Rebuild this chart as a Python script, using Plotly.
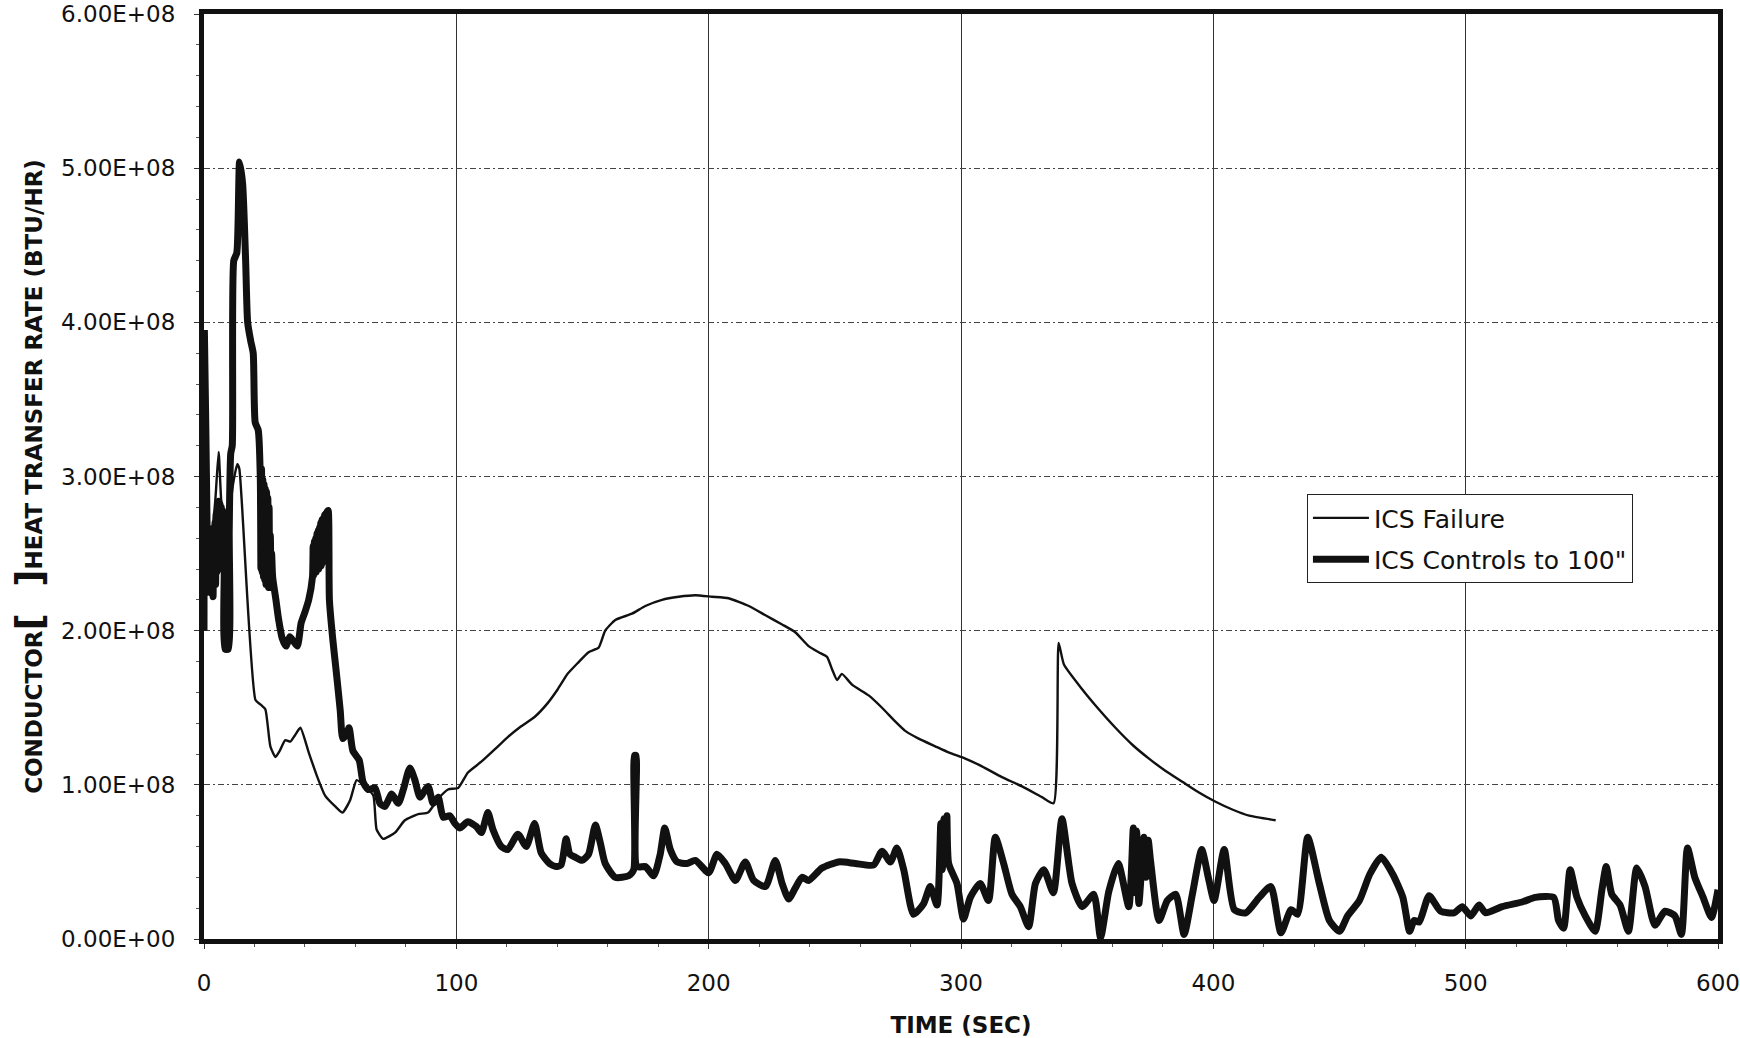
import numpy as np
import plotly.graph_objects as go

# ---- data (heat transfer rate in units of 1E+08 BTU/HR) ----
failure_time = [0.0, 1.5, 3.0, 4.5, 5.8, 6.8, 8.5, 10.0, 11.5, 13.2, 14.0, 20.4, 22.5, 24.3,
                26.3, 28.3, 30.0, 32.2, 34.2, 36.0, 38.2, 41.5, 44.7, 48.0, 52.0, 54.9, 57.9,
                60.5, 63.8, 67.1, 68.4, 71.0, 75.7, 79.6, 84.9, 88.8, 92.8, 96.7, 100.7, 104.6,
                109.9, 115.2, 120.4, 125.7, 131.0, 136.2, 140.2, 144.1, 148.1, 152.4, 156.4,
                159.0, 163.0, 169.6, 174.9, 181.5, 188.1, 194.7, 201.3, 207.9, 215.9, 222.5,
                229.1, 234.3, 239.6, 243.6, 246.9, 248.9, 250.9, 252.8, 256.8, 263.4, 268.7,
                274.0, 277.9, 283.2, 289.8, 295.1, 301.7, 308.3, 316.2, 324.2, 332.1, 336.7,
                338.7, 340.8, 348.0, 354.6, 361.2, 367.9, 374.5, 381.1, 387.7, 394.3, 400.9,
                407.5, 414.2, 424.7]
failure_rate_e8 = [2.45, 2.50, 2.60, 2.85, 3.16, 2.85, 2.62, 2.75, 2.95, 3.08, 3.05, 1.55, 1.52,
                   1.49, 1.25, 1.18, 1.22, 1.29, 1.28, 1.32, 1.37, 1.21, 1.06, 0.93, 0.86, 0.82,
                   0.90, 1.03, 0.99, 0.93, 0.71, 0.65, 0.69, 0.77, 0.81, 0.82, 0.91, 0.97, 0.98,
                   1.08, 1.15, 1.23, 1.31, 1.38, 1.44, 1.53, 1.62, 1.72, 1.79, 1.86, 1.89, 2.00,
                   2.07, 2.11, 2.16, 2.20, 2.22, 2.23, 2.22, 2.21, 2.16, 2.10, 2.04, 1.99, 1.90,
                   1.86, 1.83, 1.75, 1.68, 1.72, 1.65, 1.58, 1.50, 1.41, 1.35, 1.30, 1.25, 1.21,
                   1.17, 1.12, 1.05, 0.99, 0.92, 0.88, 1.92, 1.78, 1.62, 1.49, 1.37, 1.26, 1.17,
                   1.09, 1.02, 0.95, 0.89, 0.84, 0.80, 0.77]

controls_time = [0.0, 0.15, 1.2,
                 1.6, 1.85, 2.1, 2.35, 2.6, 2.85, 3.1, 3.35, 3.6, 3.85, 4.1, 4.35, 4.6, 4.85,
                 5.1, 5.35, 5.6, 5.85, 6.1, 6.35, 6.6, 6.85, 7.1, 7.35, 7.6, 7.85, 8.1,
                 8.4, 9.6, 10.0, 10.6, 11.2, 11.8, 13.0, 14.1, 15.3, 16.5, 17.3, 18.5, 19.5,
                 20.3, 21.5,
                 22.3, 22.55, 22.8, 23.05, 23.3, 23.55, 23.8, 24.05, 24.3, 24.55, 24.8, 25.05,
                 25.3, 25.55, 25.8, 26.05, 26.3, 26.55, 26.8, 27.2,
                 28.5, 29.5, 31.0, 32.5, 34.0, 35.5, 37.0, 38.5, 40.0, 41.5,
                 43.0, 43.25, 43.5, 43.75, 44.0, 44.25, 44.5, 44.75, 45.0, 45.25, 45.5, 45.75,
                 46.0, 46.25, 46.5, 46.75, 47.0, 47.25, 47.5, 47.75, 48.0, 48.25, 48.5, 48.8,
                 49.2,
                 49.7, 51.0, 52.5, 54.0,
                 55.0, 56.5, 57.5, 59.0, 61.5, 63.0, 65.0, 67.8, 69.7, 71.7, 74.4, 77.0, 79.0,
                 81.6, 83.6, 85.6, 88.8, 90.8, 92.8, 94.8, 97.4, 99.4, 101.3, 104.6, 107.9,
                 109.9, 112.5, 114.5, 117.8, 120.4, 124.4, 127.7, 131.0, 133.6, 136.9, 139.5,
                 141.5, 143.5, 145.0, 147.2, 149.8, 152.4, 155.1, 157.1, 159.0, 163.0, 168.3,
                 170.3, 170.6, 171.2, 171.6, 174.9, 178.2, 180.8, 182.6, 184.8, 187.5, 191.4,
                 194.7, 200.0, 203.3, 206.6, 210.6, 214.5, 217.8, 222.5, 226.4, 229.1, 231.7,
                 234.3, 237.0, 239.6, 244.9, 251.5, 258.1, 265.4, 268.7, 272.0, 274.6, 277.3,
                 281.2, 285.2, 287.8, 290.5, 292.0, 292.6, 293.2, 293.8, 294.4, 295.1, 298.4,
                 301.0, 303.7, 307.6, 310.9, 313.6, 316.9, 320.2, 323.5, 326.8, 329.5, 332.8,
                 336.6, 340.0, 344.0, 348.0, 352.6, 355.3, 358.6, 362.3, 366.5, 368.3, 369.0,
                 369.6, 370.5, 372.5, 373.3, 374.2, 375.1, 378.5, 381.8, 385.1, 388.4, 391.7,
                 395.4, 398.0, 400.3, 404.3, 408.3, 412.9, 418.2, 422.8, 426.8, 430.8, 433.4,
                 437.4, 442.0, 446.0, 450.0, 453.2, 457.9, 462.0, 466.5, 471.1, 475.1, 477.8,
                 479.6, 481.6, 485.5, 490.1, 495.4, 498.7, 502.0, 505.3, 507.9, 514.5, 522.4,
                 527.6, 534.9, 536.8, 538.8, 541.4, 544.1, 547.4, 551.3, 554.0, 555.7, 557.9,
                 561.2, 564.5, 567.8, 571.1, 575.0, 579.0, 582.9, 585.5, 587.9, 590.8, 594.1,
                 597.4, 600.0]
controls_rate_e8 = [2.00, 3.95, 2.70,
                    2.25, 2.62, 2.28, 2.58, 2.30, 2.66, 2.24, 2.55, 2.22, 2.64, 2.32, 2.70,
                    2.30, 2.76, 2.38, 2.80, 2.42, 2.84, 2.40, 2.82, 2.46, 2.80, 2.42, 2.78,
                    2.40, 2.76, 2.50,
                    1.88, 1.88, 2.65, 3.15, 3.20, 4.40, 4.45, 5.04, 4.90, 4.40, 4.00, 3.88, 3.80,
                    3.35, 3.30,
                    3.00, 2.40, 3.05, 2.38, 2.98, 2.35, 2.95, 2.33, 2.92, 2.30, 2.90, 2.30,
                    2.86, 2.28, 2.80, 2.28, 2.62, 2.30, 2.50, 2.35,
                    2.20, 2.08, 1.95, 1.90, 1.96, 1.93, 1.90, 2.05, 2.12, 2.20,
                    2.35, 2.55, 2.36, 2.58, 2.38, 2.60, 2.38, 2.63, 2.40, 2.65, 2.40, 2.67,
                    2.42, 2.70, 2.42, 2.72, 2.44, 2.73, 2.45, 2.75, 2.46, 2.76, 2.48, 2.77,
                    2.78,
                    2.20, 1.95, 1.72, 1.48,
                    1.30, 1.33, 1.37, 1.22, 1.16, 1.02, 0.97, 0.98, 0.88,
                    0.86, 0.94, 0.88, 0.97, 1.11, 1.03, 0.92, 0.99, 0.88, 0.92, 0.79, 0.80, 0.75,
                    0.72, 0.76, 0.73, 0.69, 0.82, 0.71, 0.60, 0.58, 0.68, 0.60, 0.75, 0.56, 0.49,
                    0.47, 0.48, 0.65, 0.55, 0.53, 0.51, 0.55, 0.74, 0.62, 0.49, 0.40, 0.41, 0.45,
                    1.19, 1.19, 0.47, 0.47, 0.41, 0.55, 0.72, 0.58, 0.50, 0.49, 0.51, 0.43, 0.55,
                    0.49, 0.38, 0.50, 0.38, 0.34, 0.51, 0.36, 0.26, 0.33, 0.40, 0.38, 0.46, 0.50,
                    0.49, 0.48, 0.57, 0.50, 0.59, 0.45, 0.16, 0.23, 0.34, 0.22, 0.75, 0.45, 0.78,
                    0.50, 0.80, 0.49, 0.36, 0.13, 0.27, 0.36, 0.25, 0.66, 0.49, 0.29, 0.21, 0.08,
                    0.36, 0.45, 0.30, 0.78, 0.36, 0.21, 0.29, 0.01, 0.31, 0.49, 0.21, 0.72, 0.30,
                    0.70, 0.23, 0.66, 0.40, 0.64, 0.51, 0.12, 0.25, 0.29, 0.03, 0.29, 0.58, 0.40,
                    0.25, 0.58, 0.19, 0.17, 0.27, 0.34, 0.04, 0.19, 0.16, 0.66, 0.36, 0.12, 0.05,
                    0.15, 0.25, 0.42, 0.53, 0.42, 0.27, 0.05, 0.12, 0.11, 0.28, 0.18, 0.17, 0.21,
                    0.15, 0.22, 0.17, 0.21, 0.24, 0.27, 0.27, 0.12, 0.07, 0.45, 0.27, 0.15, 0.05,
                    0.32, 0.47, 0.29, 0.22, 0.05, 0.46, 0.34, 0.09, 0.18, 0.15, 0.03, 0.59, 0.40,
                    0.27, 0.14, 0.32]

assert len(failure_time) == len(failure_rate_e8)
assert len(controls_time) == len(controls_rate_e8)

# ---- axis ticks ----
time_ticks = [0, 100, 200, 300, 400, 500, 600]
time_tick_labels = ["0", "100", "200", "300", "400", "500", "600"]
rate_ticks = [0, 1e8, 2e8, 3e8, 4e8, 5e8, 6e8]
rate_tick_labels = ["0.00E+00", "1.00E+08", "2.00E+08", "3.00E+08",
                    "4.00E+08", "5.00E+08", "6.00E+08"]

E8 = 1e8
FONT = "DejaVu Sans"
INK = "#111111"

fig = go.Figure()
fig.add_trace(go.Scatter(
    x=failure_time, y=np.array(failure_rate_e8) * E8,
    mode="lines", name="ICS Failure", legendgroup="failure",
    line=dict(color=INK, width=2.4, shape="spline", smoothing=0.5),
))
fig.add_trace(go.Scatter(
    x=controls_time, y=np.array(controls_rate_e8) * E8,
    mode="lines", name="ICS Controls to 100\"", legendgroup="controls",
    line=dict(color=INK, width=7, shape="spline", smoothing=0.6),
))

fig.update_layout(
    width=1740, height=1038,
    margin=dict(l=204, r=22, t=14, b=99, autoexpand=False),
    paper_bgcolor="white", plot_bgcolor="white",
    font=dict(family=FONT, size=23, color=INK),
    showlegend=True,
    legend=dict(
        x=0.7285, y=0.481, xanchor="left", yanchor="top",
        bgcolor="white", bordercolor="#222222", borderwidth=1,
        font=dict(family=FONT, size=25, color=INK),
        itemwidth=56, tracegroupgap=6,
    ),
)

fig.update_xaxes(
    range=[0, 600], tickmode="array", automargin=False,
    tickvals=time_ticks, ticktext=time_tick_labels,
    showline=True, linewidth=5, linecolor=INK, mirror=True,
    showgrid=True, gridcolor="#333333", gridwidth=1,
    zeroline=False,
    ticks="outside", ticklen=5, tickwidth=1, tickcolor="#333333",
    ticklabelstandoff=14,
    tickfont=dict(family=FONT, size=23, color=INK),
    minor=dict(ticks="outside", ticklen=3, tickwidth=1, tickcolor="#555555",
               dtick=20, showgrid=False),
    title=dict(text="<b>TIME (SEC)</b>", standoff=30,
               font=dict(family=FONT, size=23, color=INK)),
)

fig.update_yaxes(
    range=[0, 6e8], tickmode="array", automargin=False,
    tickvals=rate_ticks, ticktext=rate_tick_labels,
    showline=True, linewidth=5, linecolor=INK, mirror=True,
    showgrid=True, gridcolor="#444444", gridwidth=1, griddash="6px,3px,2px,3px",
    zeroline=False,
    ticks="outside", ticklen=5, tickwidth=1, tickcolor="#333333",
    ticklabelstandoff=14,
    tickfont=dict(family=FONT, size=23, color=INK),
    minor=dict(ticks="outside", ticklen=3, tickwidth=1, tickcolor="#555555",
               dtick=2e7, showgrid=False),
    title=dict(
        text="<b>CONDUCTOR<span style='font-size:38px'>[\u00a0\u00a0]</span>"
             "HEAT TRANSFER RATE (BTU/HR)</b>",
        standoff=14,
        font=dict(family=FONT, size=23, color=INK),
    ),
)

fig.write_html("out.html")
